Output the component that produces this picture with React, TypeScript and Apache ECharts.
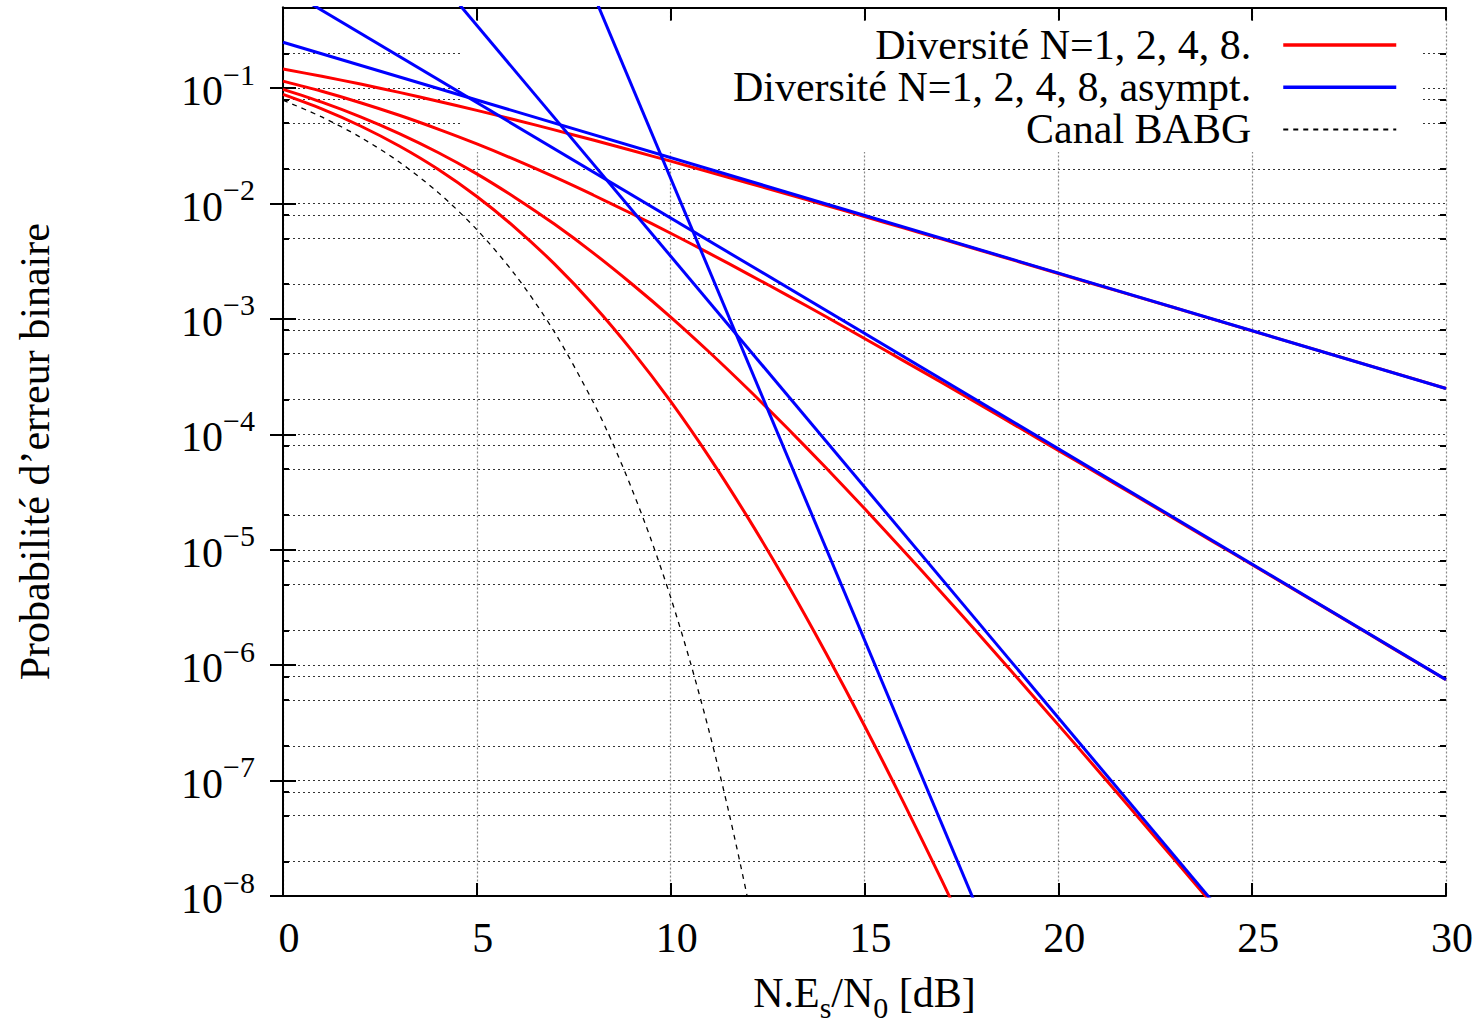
import React, { useEffect, useRef } from "react";
import * as echarts from "echarts";

// ---- Data ----
const snrDb = [0, 1, 2, 3, 4, 5, 6, 7, 8, 9, 10, 11, 12, 13, 14, 15, 16, 17, 18, 19, 20, 21, 22, 23, 24, 25, 26, 27, 28, 29, 30];

// Diversity N=1 (exact)
const pe1 = [0.1464, 0.1267, 0.1085, 0.0919, 0.0771, 0.0642, 0.053, 0.0435, 0.0355, 0.0288, 0.0233, 0.01875, 0.01507, 0.01208, 0.00967, 0.00772, 0.00616, 0.00492, 0.00392, 0.00312, 0.00248, 0.00197, 0.00157, 0.00125, 0.000992, 0.000789, 0.000627, 0.000498, 0.000396, 0.000315, 0.00025];
// Diversity N=2 (exact)
const pe2 = [0.1151, 0.0939, 0.0748, 0.0582, 0.0442, 0.0329, 0.0239, 0.017, 0.01187, 0.00816, 0.00553, 0.0037, 0.00245, 0.00161, 0.00105, 0.000677, 0.000436, 0.00028, 0.000179, 0.000114, 7.26e-5, 4.61e-5, 2.92e-5, 1.85e-5, 1.17e-5, 7.42e-6, 4.69e-6, 2.97e-6, 1.87e-6, 1.18e-6, 7.48e-7];
// Diversity N=4 (exact), 0..24 dB
const pe4 = [0.0975, 0.0756, 0.0564, 0.0404, 0.0277, 0.0181, 0.0112, 0.00664, 0.00374, 0.00201, 0.00104, 0.000515, 0.000246, 0.000114, 5.16e-5, 2.28e-5, 9.87e-6, 4.21e-6, 1.77e-6, 7.37e-7, 3.04e-7, 1.25e-7, 5.07e-8, 2.06e-8, 8.3e-9];
// Diversity N=8 (exact), 0..18 dB
const pe8 = [0.0882, 0.0661, 0.047, 0.0315, 0.0198, 0.0115, 0.00614, 0.003, 0.00133, 0.000532, 0.000193, 6.32e-5, 1.88e-5, 5.12e-6, 1.28e-6, 2.99e-7, 6.54e-8, 1.35e-8, 2.66e-9];

// AWGN channel (Canal BABG)
const awgnDb = [0, 1, 2, 3, 4, 5, 6, 7, 8, 8.5, 9, 9.5, 10, 10.5, 11, 11.5, 12, 12.5];
const awgnPe = [0.0786, 0.0563, 0.0375, 0.0229, 0.0125, 0.00595, 0.00239, 0.000773, 0.000191, 8.44e-5, 3.36e-5, 1.21e-5, 3.87e-6, 1.08e-6, 2.61e-7, 5.33e-8, 9.0e-9, 1.23e-9];

// Asymptotes (straight lines in log scale)
const asym1Db = [0, 30];
const asym1Pe = [0.25, 2.5e-4];
const asym2Db = [0, 30];
const asym2Pe = [0.75, 7.5e-7];
const asym4Db = [0, 24];
const asym4Pe = [35, 8.8e-9];
const asym8Db = [0, 18];
const asym8Pe = [1.65e6, 6.6e-9];

// Axis ticks
const yMajor = [1e-8, 1e-7, 1e-6, 1e-5, 1e-4, 1e-3, 1e-2, 1e-1];
const yMinor = [
  2e-8, 5e-8, 8e-8, 2e-7, 5e-7, 8e-7, 2e-6, 5e-6, 8e-6, 2e-5, 5e-5, 8e-5,
  2e-4, 5e-4, 8e-4, 2e-3, 5e-3, 8e-3, 2e-2, 5e-2, 8e-2, 2e-1,
];

const RED_NAME = "Diversité N=1, 2, 4, 8.";
const BLUE_NAME = "Diversité N=1, 2, 4, 8, asympt.";
const AWGN_NAME = "Canal BABG";

const FONT = '"Liberation Serif", "Times New Roman", serif';

const zip = (xs: number[], ys: number[]) => ys.map((y, i) => [xs[i], y]);

export default function App() {
  const ref = useRef<HTMLDivElement>(null);

  useEffect(() => {
    if (!ref.current) return;
    const chart = echarts.init(ref.current, undefined, { renderer: "svg" });

    const yCommon = { type: "log", logBase: 10, min: 1e-8, max: 0.5 } as any;
    const hDot = { type: [2, 3], color: "#333", width: 1.2 };
    const vDot = { type: [2, 2], color: "#888", width: 1.2 };
    const frame = { show: true, lineStyle: { color: "#000", width: 2 } };

    const redSeries = [pe1, pe2, pe4, pe8].map((pe) => ({
      type: "line",
      name: RED_NAME,
      data: zip(snrDb, pe),
      symbol: "none",
      showSymbol: false,
      smooth: 0.3,
      lineStyle: { color: "#ff0000", width: 3 },
      itemStyle: { color: "#ff0000" },
      z: 3,
    }));

    const blueSeries = [
      [asym1Db, asym1Pe],
      [asym2Db, asym2Pe],
      [asym4Db, asym4Pe],
      [asym8Db, asym8Pe],
    ].map(([xs, ys]) => ({
      type: "line",
      name: BLUE_NAME,
      data: zip(xs, ys),
      symbol: "none",
      showSymbol: false,
      lineStyle: { color: "#0000ff", width: 3 },
      itemStyle: { color: "#0000ff" },
      z: 4,
    }));

    const awgnSeries = {
      type: "line",
      name: AWGN_NAME,
      data: zip(awgnDb, awgnPe),
      symbol: "none",
      showSymbol: false,
      smooth: 0.3,
      lineStyle: { color: "#000", width: 1.3, type: [5, 5] },
      itemStyle: { color: "#000" },
      z: 3,
    };

    const option: any = {
      animation: false,
      backgroundColor: "#ffffff",
      textStyle: { fontFamily: FONT },
      grid: { left: 283, top: 7.5, right: 31, bottom: 128, containLabel: false },
      legend: {
        data: [
          { name: RED_NAME, lineStyle: { width: 3.5 } },
          { name: BLUE_NAME, lineStyle: { width: 3.5 } },
          { name: AWGN_NAME },
        ],
        orient: "vertical",
        align: "right",
        right: 79,
        top: 24,
        padding: 0,
        itemGap: 0.2,
        itemWidth: 113,
        itemHeight: 14,
        selectedMode: false,
        itemStyle: { opacity: 0, borderWidth: 0 },
        textStyle: {
          fontFamily: FONT,
          fontSize: 42,
          color: "#000",
          padding: [0, 27, 0, 0],
        },
        z: 6,
      },
      graphic: {
        elements: [
          {
            type: "rect",
            left: 463,
            top: 21,
            shape: { width: 959, height: 131 },
            style: { fill: "#ffffff" },
            z: 1,
            silent: true,
          },
        ],
      },
      xAxis: [
        {
          type: "value",
          min: 0,
          max: 30,
          interval: 5,
          position: "bottom",
          axisLine: frame,
          axisTick: { show: true, inside: true, length: 13, lineStyle: { color: "#000", width: 2 } },
          axisLabel: {
            fontFamily: FONT,
            fontSize: 42,
            color: "#000",
            margin: 21,
            padding: [0, 0, 0, 12],
          },
          splitLine: { show: true, lineStyle: vDot },
          name: "{n|N.E}{s|s}{n|/N}{s|0}{n| [dB]}",
          nameLocation: "middle",
          nameGap: 76,
          nameTextStyle: {
            color: "#000",
            rich: {
              n: { fontFamily: FONT, fontSize: 42, lineHeight: 42, color: "#000" },
              s: { fontFamily: FONT, fontSize: 30, lineHeight: 30, padding: [28, 0, 0, 0], color: "#000" },
            },
          },
        },
        {
          type: "value",
          min: 0,
          max: 30,
          interval: 5,
          position: "top",
          axisLine: frame,
          axisTick: { show: true, inside: true, length: 13, lineStyle: { color: "#000", width: 2 } },
          axisLabel: { show: false },
          splitLine: { show: false },
        },
      ],
      yAxis: [
        {
          ...yCommon,
          position: "left",
          axisLine: frame,
          axisTick: {
            show: true,
            inside: true,
            length: 13,
            customValues: yMajor,
            lineStyle: { color: "#000", width: 2 },
          },
          axisLabel: {
            customValues: yMajor,
            margin: 28,
            formatter: (v: number) => {
              const e = Math.round(Math.log10(v));
              return `{b|10}{s|\u2212${-e}}`;
            },
            rich: {
              b: { fontFamily: FONT, fontSize: 42, lineHeight: 42, padding: [6, 0, 0, 0], color: "#000" },
              s: { fontFamily: FONT, fontSize: 30, lineHeight: 30, padding: [0, 0, 28, 0], color: "#000" },
            },
          },
          splitLine: { show: true, lineStyle: hDot },
          name: "Probabilité d\u2019erreur binaire",
          nameLocation: "middle",
          nameRotate: 90,
          nameGap: 227,
          nameTextStyle: { fontFamily: FONT, fontSize: 42, color: "#000" },
        },
        {
          ...yCommon,
          position: "right",
          axisLine: frame,
          axisTick: {
            show: true,
            inside: true,
            length: 13,
            customValues: yMajor,
            lineStyle: { color: "#000", width: 2 },
          },
          axisLabel: { show: false },
          splitLine: { show: false },
        },
        {
          ...yCommon,
          position: "left",
          axisLine: { show: false },
          axisTick: {
            show: true,
            inside: true,
            length: 6,
            customValues: yMinor,
            lineStyle: { color: "#000", width: 2 },
          },
          axisLabel: { show: false },
          splitLine: { show: true, lineStyle: hDot },
        },
        {
          ...yCommon,
          position: "right",
          axisLine: { show: false },
          axisTick: {
            show: true,
            inside: true,
            length: 6,
            customValues: yMinor,
            lineStyle: { color: "#000", width: 2 },
          },
          axisLabel: { show: false },
          splitLine: { show: false },
        },
      ],
      series: [...redSeries, ...blueSeries, awgnSeries],
    };

    chart.setOption(option);
    return () => chart.dispose();
  }, []);

  return (
    <div
      ref={ref}
      style={{ position: "fixed", left: 0, top: 0, width: "1477px", height: "1027px", background: "#fff" }}
    />
  );
}
